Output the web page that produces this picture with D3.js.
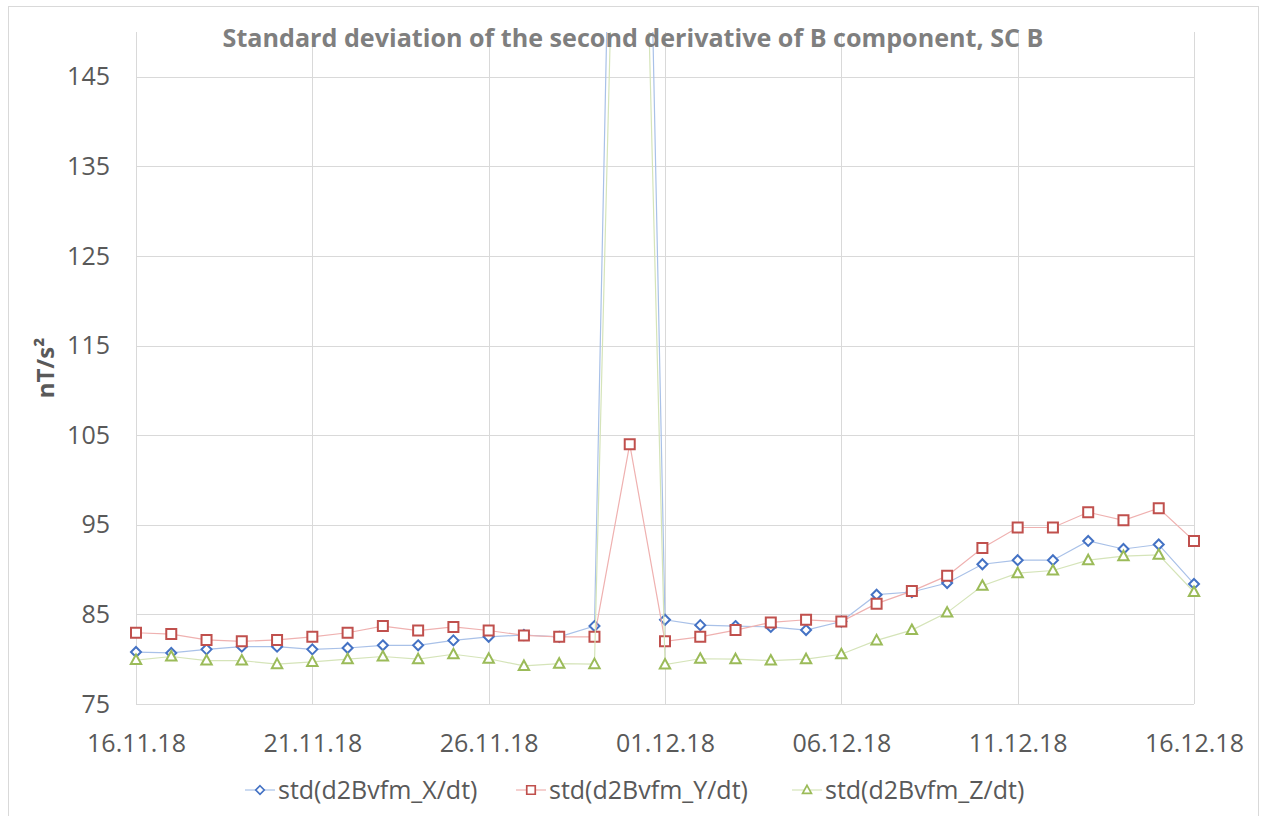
<!DOCTYPE html>
<html>
<head>
<meta charset="utf-8">
<script src="https://cdn.jsdelivr.net/npm/d3@7"></script>
<style>
  html, body { margin: 0; padding: 0; background: #ffffff; }
  svg { display: block; }
  text { font-family: "Segoe UI", "Open Sans", "Noto Sans", sans-serif; }
</style>
</head>
<body>
<svg id="chart" width="1262" height="816"></svg>
<script>
// ---------- data ----------
const dates = [
  "2018-11-16","2018-11-17","2018-11-18","2018-11-19","2018-11-20","2018-11-21",
  "2018-11-22","2018-11-23","2018-11-24","2018-11-25","2018-11-26","2018-11-27",
  "2018-11-28","2018-11-29","2018-11-30","2018-12-01","2018-12-02","2018-12-03",
  "2018-12-04","2018-12-05","2018-12-06","2018-12-07","2018-12-08","2018-12-09",
  "2018-12-10","2018-12-11","2018-12-12","2018-12-13","2018-12-14","2018-12-15",
  "2018-12-16"
];
const seriesX = [80.8, 80.7, 81.1, 81.4, 81.4, 81.1, 81.25, 81.55, 81.55, 82.1, 82.5, 82.7, 82.5, 83.7,
  275, 84.4, 83.8, 83.7, 83.6, 83.25, 84.2, 87.2, 87.5, 88.5, 90.6, 91.05, 91.05, 93.2, 92.3, 92.8, 88.4];
const seriesY = [82.95, 82.8, 82.15, 82.0, 82.15, 82.5, 82.95, 83.7, 83.2, 83.6, 83.2, 82.65, 82.5, 82.5,
  104.0, 82.0, 82.5, 83.25, 84.1, 84.4, 84.2, 86.2, 87.6, 89.3, 92.4, 94.7, 94.7, 96.4, 95.5, 96.85, 93.2];
const seriesZ = [79.9, 80.3, 79.85, 79.85, 79.45, 79.7, 80.0, 80.3, 80.0, 80.55, 80.05, 79.25, 79.5, 79.45,
  236, 79.4, 80.05, 80.0, 79.85, 80.0, 80.55, 82.1, 83.25, 85.2, 88.2, 89.6, 89.9, 91.05, 91.5, 91.65, 87.5];
const seriesNames = ["std(d2Bvfm_X/dt)", "std(d2Bvfm_Y/dt)", "std(d2Bvfm_Z/dt)"];
const xTickDates = ["2018-11-16","2018-11-21","2018-11-26","2018-12-01","2018-12-06","2018-12-11","2018-12-16"];
const yTicks = [75, 85, 95, 105, 115, 125, 135, 145];
const yDomain = [75, 150];
const titleText = "Standard deviation of the second derivative of B component, SC B";
const yTitle = "nT/s²";

// ---------- layout ----------
const W = 1262, H = 816;
const plot = { left: 136, right: 1194, top: 32, bottom: 704 };
const parse = d3.timeParse("%Y-%m-%d");
const fmt = d3.timeFormat("%d.%m.%y");

const svg = d3.select("#chart");

// chart border
svg.append("rect")
  .attr("x", 8.5).attr("y", 6.5).attr("width", 1250).attr("height", 820)
  .attr("fill", "#ffffff").attr("stroke", "#d9d9d9").attr("stroke-width", 1);

const x = d3.scaleTime()
  .domain([parse(dates[0]), parse(dates[dates.length - 1])])
  .range([plot.left, plot.right]);
const y = d3.scaleLinear().domain(yDomain).range([plot.bottom, plot.top]);

// gridlines
const grid = svg.append("g");
grid.selectAll("line.h").data(yTicks).join("line")
  .attr("x1", plot.left).attr("x2", plot.right)
  .attr("y1", d => Math.round(y(d)) + 0.5).attr("y2", d => Math.round(y(d)) + 0.5)
  .attr("stroke", "#d9d9d9").attr("stroke-width", 1);
grid.selectAll("line.v").data(xTickDates).join("line")
  .attr("x1", d => Math.round(x(parse(d))) + 0.5).attr("x2", d => Math.round(x(parse(d))) + 0.5)
  .attr("y1", plot.top).attr("y2", plot.bottom)
  .attr("stroke", "#d9d9d9").attr("stroke-width", 1);

// y axis labels
const yAxis = d3.axisLeft(y).tickValues(yTicks).tickSize(0).tickPadding(0).tickFormat(d3.format("d"));
const gy = svg.append("g").attr("transform", `translate(${plot.left - 26},0)`).call(yAxis);
gy.select(".domain").remove();
gy.selectAll("text")
  .attr("fill", "#595959").attr("font-size", 25)
  .style("font-family", '"Segoe UI", "Open Sans", sans-serif');

// x axis labels
const xAxis = d3.axisBottom(x).tickValues(xTickDates.map(parse)).tickSize(0).tickPadding(0).tickFormat(fmt);
const gx = svg.append("g").attr("transform", `translate(0,${plot.bottom + 30})`).call(xAxis);
gx.select(".domain").remove();
gx.selectAll("text")
  .attr("fill", "#595959").attr("font-size", 25)
  .style("font-family", '"Segoe UI", "Open Sans", sans-serif');

// y title
svg.append("text")
  .attr("transform", `translate(54,368) rotate(-90)`)
  .attr("text-anchor", "middle")
  .attr("font-size", 24).attr("font-weight", "bold").attr("fill", "#595959")
  .text(yTitle);

// series
const styles = [
  { data: seriesX, line: "#a9c1e8", mark: "#4472c4", shape: "diamond" },
  { data: seriesY, line: "#efb1b0", mark: "#c0504d", shape: "square" },
  { data: seriesZ, line: "#d5e4b9", mark: "#9bbb59", shape: "triangle" }
];

svg.append("clipPath").attr("id", "plotclip").append("rect")
  .attr("x", plot.left - 10).attr("y", plot.top)
  .attr("width", plot.right - plot.left + 20).attr("height", plot.bottom - plot.top + 10);

function markerPath(shape) {
  if (shape === "diamond") return "M0,-5 L5,0 L0,5 L-5,0 Z";
  if (shape === "square") return "M-5,-5 L5,-5 L5,5 L-5,5 Z";
  return "M0,-5.5 L5.2,4 L-5.2,4 Z";
}

const lineGen = d3.line().x((d, i) => x(parse(dates[i]))).y(d => y(d));
const plotG = svg.append("g").attr("clip-path", "url(#plotclip)");
styles.forEach(s => {
  const g = plotG.append("g");
  g.append("path").datum(s.data)
    .attr("d", lineGen).attr("fill", "none")
    .attr("stroke", s.line).attr("stroke-width", 1.2);
  g.selectAll("path.m").data(s.data).join("path")
    .attr("class", "m")
    .attr("transform", (d, i) => `translate(${x(parse(dates[i]))},${y(d)})`)
    .attr("d", markerPath(s.shape))
    .attr("fill", "#ffffff").attr("stroke", s.mark).attr("stroke-width", 2);
});

// title
const title = svg.append("text")
  .attr("x", 633).attr("y", 47).attr("text-anchor", "middle")
  .attr("font-weight", "bold").attr("fill", "#7f7f7f").attr("font-size", 22)
  .text(titleText);
const tw = title.node().getComputedTextLength();
if (tw > 0) title.attr("font-size", 22 * 821 / tw);

// legend
const legendX = [260, 531, 807];
const legendY = 790;
styles.forEach((s, i) => {
  const g = svg.append("g").attr("transform", `translate(${legendX[i]},${legendY})`);
  g.append("line").attr("x1", -15).attr("x2", 15).attr("y1", 0).attr("y2", 0)
    .attr("stroke", s.line).attr("stroke-width", 1.2);
  g.append("path").attr("d", markerPath(s.shape)).attr("transform", "scale(0.85)")
    .attr("fill", "#ffffff").attr("stroke", s.mark).attr("stroke-width", 2);
  g.append("text").attr("x", 18).attr("y", 0).attr("dy", "0.35em")
    .attr("font-size", 25).attr("fill", "#595959")
    .text(seriesNames[i]);
});
</script>
</body>
</html>
